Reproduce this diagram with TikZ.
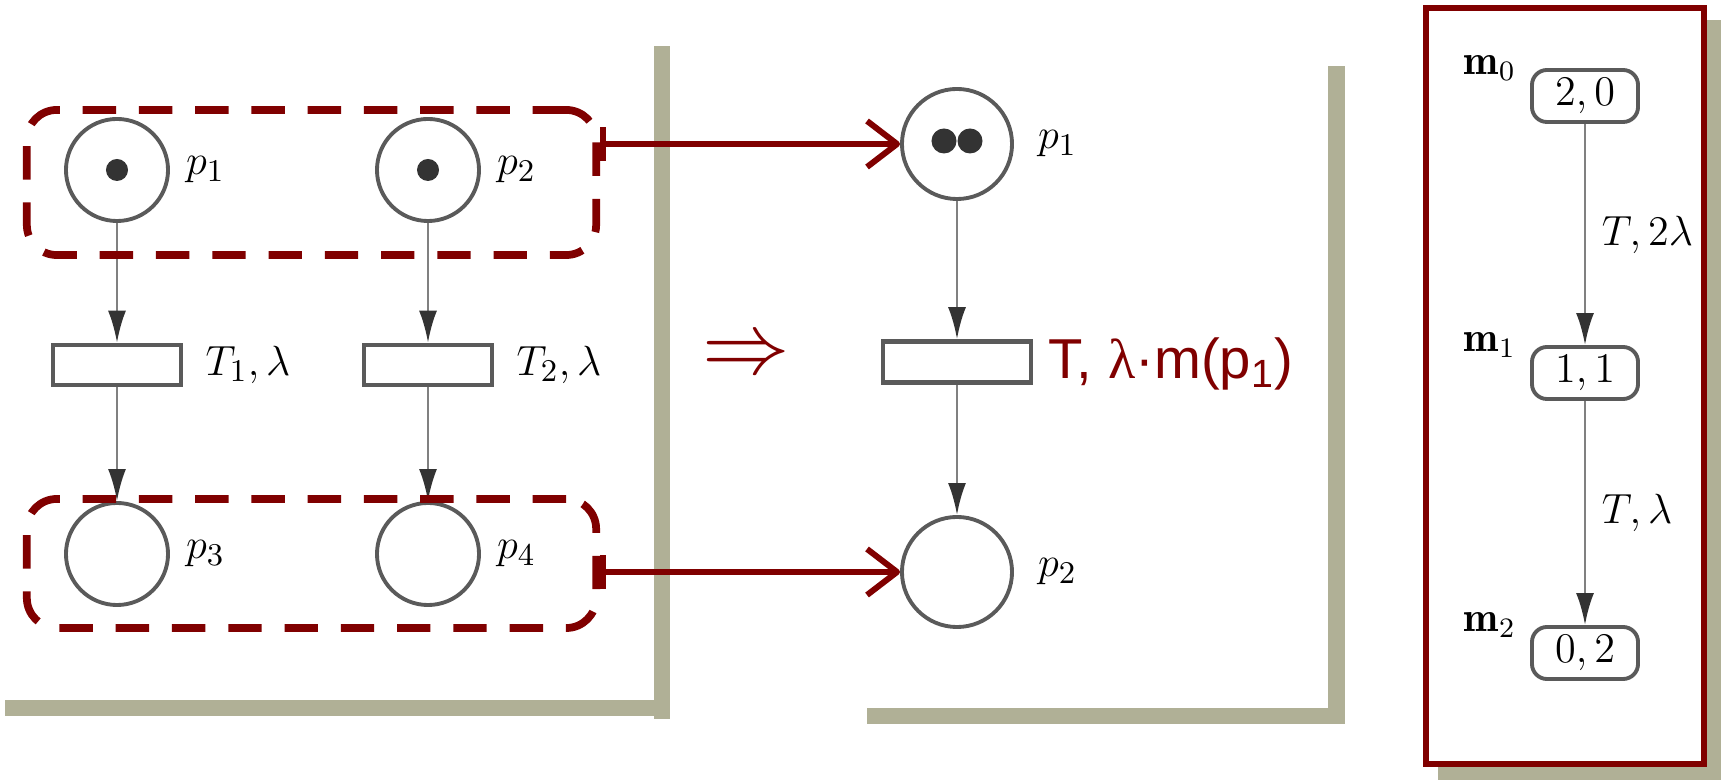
\documentclass[tikz,border=0pt]{standalone}
\usepackage{fontspec}
\usetikzlibrary{arrows.meta,positioning}
\newfontfamily\labelsans{Liberation Sans}
\newfontfamily\labelserif{Liberation Serif}
\definecolor{darkred}{RGB}{128,0,0}
\definecolor{shadowgray}{RGB}{176,176,150}
\definecolor{netgray}{RGB}{90,90,90}

\begin{document}
\begin{tikzpicture}[x=0.01cm, y=-0.01cm,
    place/.style={circle, draw=netgray, line width=1.1pt, minimum size=1.02cm, inner sep=0pt},
    token/.style={circle, fill=black!80, minimum size=0.22cm, inner sep=0pt},
    trans/.style={rectangle, draw=netgray, line width=1.3pt, minimum width=1.28cm, minimum height=0.40cm, inner sep=0pt},
    state/.style={rectangle, rounded corners=0.15cm, draw=netgray, line width=1.1pt, minimum width=1.06cm, minimum height=0.52cm, inner sep=0pt, font=\fontsize{13}{15}\selectfont},
    arc/.style={draw=gray, line width=0.8pt, -{Latex[length=0.32cm, width=0.18cm, color=black!80]}},
    netlbl/.style={font=\fontsize{13}{15}\selectfont, inner sep=1pt},
    mlbl/.style={font=\fontsize{12}{14}\selectfont, inner sep=1pt},
    group/.style={draw=darkred, line width=2.2pt, dash pattern=on 9.5pt off 6.5pt, rounded corners=0.3cm, inner sep=0pt},
    link/.style={draw=darkred, line width=1.7pt, {Bar[width=0.34cm]}-{Straight Barb[length=0.3cm, width=0.46cm, line join=round]}},
    shade/.style={fill=shadowgray}]
    \useasboundingbox (0,0) rectangle (1721,780);

    % Shadows
    \fill[shade] (654,46) rectangle (670,719);
    \fill[shade] (5,700) rectangle (670,716);
    \fill[shade] (1328,66) rectangle (1345,724);
    \fill[shade] (867,708) rectangle (1345,724);
    \fill[shade] (1705,20) rectangle (1721,780);
    \fill[shade] (1438,765) rectangle (1721,780);

    % Left net
    \node[place] (p1) at (117,170) {};
    \node[place] (p2) at (428,170) {};
    \node[token] (p1tok) at (p1) {};
    \node[token] (p2tok) at (p2) {};
    \node[trans] (t1) at (117,365) {};
    \node[trans] (t2) at (428,365) {};
    \node[place] (p3) at (117,554) {};
    \node[place] (p4) at (428,554) {};

    \node[netlbl, right=0.12cm of p1] (p1lbl) {$p_1$};
    \node[netlbl, right=0.12cm of p2] (p2lbl) {$p_2$};
    \node[netlbl, right=0.18cm of t1] (t1lbl) {$T_1,\lambda$};
    \node[netlbl, right=0.18cm of t2] (t2lbl) {$T_2,\lambda$};
    \node[netlbl, right=0.12cm of p3] (p3lbl) {$p_3$};
    \node[netlbl, right=0.12cm of p4] (p4lbl) {$p_4$};

    \draw[arc] (p1) -- (t1);
    \draw[arc] (p2) -- (t2);
    \draw[arc] (t1) -- (p3);
    \draw[arc] (t2) -- (p4);

    % Groups
    \node[group, minimum width=5.69cm, minimum height=1.45cm] (top) at (311.5,182.5) {};
    \node[group, minimum width=5.69cm, minimum height=1.29cm] (bottom) at (311.5,563.5) {};

    % Merged net
    \node[darkred, font=\fontsize{23}{23}\selectfont] (impl) at (746,357) {$\Rightarrow$};
    \node[place, minimum size=1.1cm] (q1) at (957,144) {};
    \foreach \dx/\nm in {-0.13/a, 0.13/b}
        \node[token, minimum size=0.25cm] (q1\nm) at ([xshift=\dx cm, yshift=0.03cm]q1.center) {};
    \node[trans, minimum width=1.48cm, minimum height=0.41cm] (t) at (957,362) {};
    \node[place, minimum size=1.1cm] (q2) at (957,572) {};

    \node[netlbl, right=0.2cm of q1] (q1lbl) {$p_1$};
    \node[netlbl, right=0.2cm of q2] (q2lbl) {$p_2$};
    \node[darkred, anchor=west, inner sep=0pt, font=\labelsans\fontsize{16}{19}\selectfont] (tlbl) at (1048,364)
        {T, {\labelserif λ}·m(p\textsubscript{1})};

    \draw[arc] (q1) -- (t);
    \draw[arc] (t) -- (q2);

    \draw[link] (top.east |- q1.west) -- (q1.west);
    \draw[link] (bottom.east |- q2.west) -- (q2.west);

    % Reachability graph
    \draw[darkred, line width=1.6pt, fill=white] (1426,8) rectangle (1704,764);
    \node[state] (m0) at (1585,96) {$2,0$};
    \node[state] (m1) at (1585,373) {$1,1$};
    \node[state] (m2) at (1585,653) {$0,2$};
    \node[mlbl, anchor=east] (m0lbl) at ([xshift=-0.1cm]m0.north west) {$\mathbf{m}_0$};
    \node[mlbl, anchor=east] (m1lbl) at ([xshift=-0.1cm]m1.north west) {$\mathbf{m}_1$};
    \node[mlbl, anchor=east] (m2lbl) at ([xshift=-0.1cm]m2.north west) {$\mathbf{m}_2$};

    \draw[arc] (m0) -- node[netlbl, right=0.12cm] (e01) {$T,2\lambda$} (m1);
    \draw[arc] (m1) -- node[netlbl, right=0.12cm] (e12) {$T,\lambda$} (m2);
\end{tikzpicture}
\end{document}
